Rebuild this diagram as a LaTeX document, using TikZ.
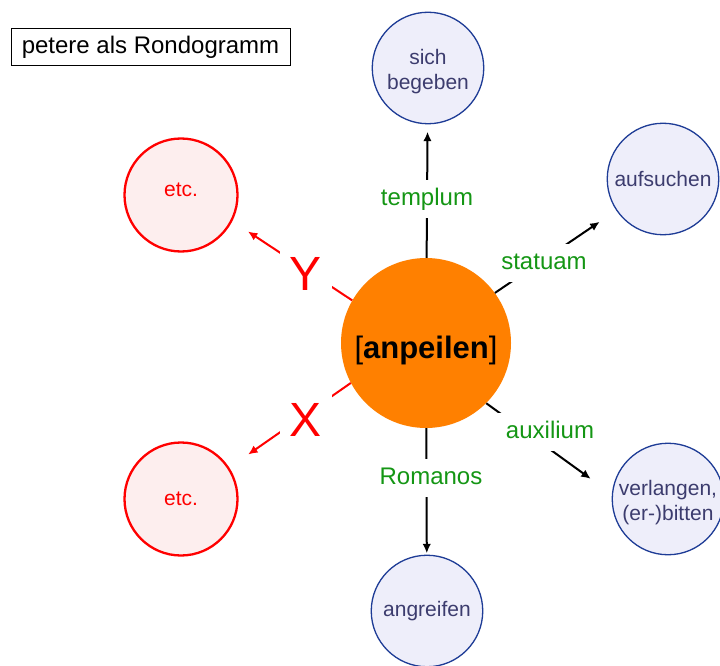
\documentclass[tikz,border=0pt]{standalone}
\usepackage{fontspec}
\setmainfont{Liberation Sans}
\usetikzlibrary{arrows.meta}
\definecolor{bluebd}{RGB}{30,60,150}
\definecolor{bluefill}{RGB}{238,238,250}
\definecolor{bluetxt}{RGB}{60,60,110}
\definecolor{lblgreen}{RGB}{20,150,20}
\definecolor{redfill}{RGB}{253,238,238}
\definecolor{orangec}{RGB}{255,128,0}
\begin{document}
\begin{tikzpicture}[x=1pt,y=-1pt,
  bluecirc/.style={circle, draw=bluebd, line width=1.3pt, fill=bluefill, minimum size=111.5pt, inner sep=0pt, align=center, text=bluetxt, font=\fontsize{21}{25}\selectfont},
  redcirc/.style={circle, draw=red, line width=2.3pt, fill=redfill, minimum size=113pt, inner sep=0pt, text=red, font=\fontsize{21}{25}\selectfont},
  lbl/.style={fill=white, text=lblgreen, font=\fontsize{24}{28}\selectfont, inner sep=8pt, text height=17pt, text depth=5pt},
  biglbl/.style={fill=white, text=red, font=\fontsize{48}{52}\selectfont, inner sep=10pt},
  arr/.style={draw=black, line width=2pt, -{Latex[length=9.5pt,width=8.5pt]}},
  redarr/.style={draw=red, line width=2pt, -{Latex[length=9.5pt,width=8.5pt]}},
  titlebox/.style={draw, line width=1pt, minimum width=279pt, minimum height=37pt, inner sep=0pt, font=\fontsize{24}{28}\selectfont}]
\useasboundingbox (0,0) rectangle (720,666);
\clip (0,0) rectangle (720,666);
\fill[white] (0,0) rectangle (720,666);

\node[titlebox] (t) at (150.5,47) {petere als Rondogramm};

\node[bluecirc] (sb) at (428,68) {\rule{0pt}{23pt}sich\\begeben};
\node[bluecirc] (au) at (663,179) {aufsuchen};
\node[bluecirc] (vb) at (668,499) {\rule{0pt}{23pt}verlangen,\\(er-)bitten};
\node[bluecirc] (ag) at (427,611) {angreifen};
\node[redcirc, text height=8pt, text depth=6pt] (e1) at (181,195) {etc.};
\node[redcirc] (e2) at (181,499) {etc.};
\node[circle, fill=orangec, minimum size=170pt, inner sep=0pt, text height=30pt, text depth=0pt, font=\fontsize{31}{35}\selectfont] (c) at (426,343) {[\textbf{anpeilen}]};

\draw[arr, shorten >=7.3pt] (c) -- (sb);
\draw[arr, shorten >=1.3pt] (c) -- (ag);
\draw[arr, shorten >=20pt] (c.36) -- (au.214.6);
\draw[arr, shorten >=26pt] (c.-45) -- (vb.175.5);
\draw[redarr, shorten >=18.6pt] (c.150.4) -- (e1.-27.8);
\draw[redarr, shorten >=22.8pt] (c.-152.2) -- (e2.33.9);

\node[lbl] (lt) at (427,199) {templum};
\node[lbl] (ls) at (544,263) {statuam};
\node[lbl] (la) at (550,432) {auxilium};
\node[lbl] (lr) at (431,478) {Romanos};
\node[biglbl] (ly) at (306,274) {Y};
\node[biglbl] (lx) at (306,420) {X};
\end{tikzpicture}
\end{document}
